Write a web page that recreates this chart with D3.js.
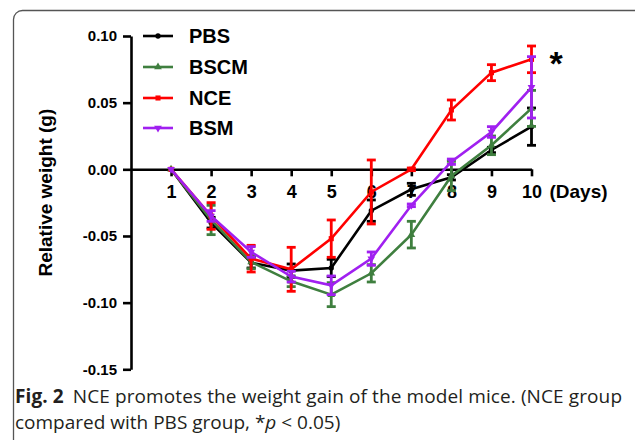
<!DOCTYPE html>
<html>
<head>
<meta charset="utf-8">
<script src="https://cdn.jsdelivr.net/npm/d3@7"></script>
<style>
  body { margin: 0; background: #fff; }
  text { font-family: "Liberation Sans", Arial, sans-serif; }
  .caption { font-family: "Open Sans", "Noto Sans", sans-serif; }
</style>
</head>
<body>
<div id="chart"></div>
<script>
// Data
const days = [1, 2, 3, 4, 5, 6, 7, 8, 9, 10];
const yTicks = [0.10, 0.05, 0.00, -0.05, -0.10, -0.15];

const pbs      = [0, -0.040, -0.070, -0.076, -0.074, -0.031, -0.015, -0.006, 0.0145, 0.032];
const pbsErr   = [0, 0.004, 0.004, 0.005, 0.0065, 0.008, 0.0045, 0.002, 0.002, 0.014];
const bscm     = [0, -0.038, -0.0695, -0.084, -0.094, -0.078, -0.049, -0.005, 0.018, 0.0457];
const bscmErr  = [0, 0.011, 0.005, 0.004, 0.009, 0.0065, 0.010, 0.011, 0.007, 0.0135];
const nce      = [0, -0.035, -0.067, -0.075, -0.052, -0.017, 0.000, 0.0445, 0.0725, 0.0825];
const nceErr   = [0, 0.010, 0.010, 0.0165, 0.014, 0.024, 0.001, 0.0075, 0.006, 0.010];
const bsm      = [0, -0.035, -0.062, -0.0805, -0.087, -0.067, -0.027, 0.0057, 0.028, 0.0615];
const bsmErr   = [0, 0.004, 0.004, 0.004, 0.007, 0.005, 0.001, 0.002, 0.004, 0.023];

const seriesNames = ["PBS", "BSCM", "NCE", "BSM"];

const width = 635;
const height = 440;

const series = [
  {name: "PBS",  values: pbs,  err: pbsErr,  colour: "#000000", symbol: d3.symbolCircle,   size: 22},
  {name: "BSCM", values: bscm, err: bscmErr, colour: "#3f7f3f", symbol: d3.symbolTriangle, size: 26},
  {name: "NCE",  values: nce,  err: nceErr,  colour: "#ff0000", symbol: d3.symbolSquare,   size: 26},
  {name: "BSM",  values: bsm,  err: bsmErr,  colour: "#a020f0", symbol: d3.symbolTriangle, size: 26, flip: true}
];

const svg = d3.select("#chart").append("svg")
    .attr("width", width)
    .attr("height", height);

// rounded frame
svg.append("rect")
    .attr("x", 13.5).attr("y", 10.5)
    .attr("width", 660).attr("height", 470)
    .attr("rx", 9)
    .attr("fill", "none")
    .attr("stroke", "#555")
    .attr("stroke-width", 1.3);

const x = d3.scaleLinear().domain([0, 10]).range([131, 531.5]);
const y = d3.scaleLinear().domain([-0.15, 0.10]).range([369.3, 36]);

// plain hyphen for negatives, like the original
const fmtY = d => d3.format(".2f")(d).replace("\u2212", "-");

// Y AXIS
const yAxis = svg.append("g")
    .attr("transform", `translate(${x(0)},0)`)
    .call(d3.axisLeft(y).tickValues(yTicks).tickSize(8).tickSizeOuter(0).tickPadding(6)
      .tickFormat(fmtY));
yAxis.select(".domain").attr("stroke-width", 2.6);
yAxis.selectAll(".tick line").attr("stroke-width", 2.6);
yAxis.selectAll(".tick text")
    .attr("font-size", 15).attr("font-weight", "bold")
    .attr("font-family", "Liberation Sans, Arial, sans-serif")
    .attr("fill", "#000");

// X AXIS at y = 0
const xAxis = svg.append("g")
    .attr("transform", `translate(0,${y(0)})`)
    .call(d3.axisBottom(x).tickValues(days).tickSize(7).tickSizeOuter(0).tickPadding(9)
      .tickFormat(d3.format("d")));
xAxis.select(".domain").attr("stroke-width", 2.6);
xAxis.selectAll(".tick line").attr("stroke-width", 2.6);
xAxis.selectAll(".tick text")
    .attr("font-size", 18).attr("font-weight", "bold")
    .attr("font-family", "Liberation Sans, Arial, sans-serif")
    .attr("fill", "#000");

svg.append("text")
    .attr("x", x(10) + 18)
    .attr("y", y(0) + 29)
    .attr("font-size", 19)
    .attr("font-weight", "bold")
    .text("(Days)");

// axis title
svg.append("text")
    .attr("transform", `translate(52,${(y(0.10) + y(-0.15)) / 2 - 10}) rotate(-90)`)
    .attr("text-anchor", "middle")
    .attr("font-size", 19)
    .attr("font-weight", "bold")
    .text("Relative weight (g)");

// LINES, ERROR BARS, MARKERS
const line = d3.line()
    .x((d, i) => x(days[i]))
    .y(d => y(d));

series.forEach(s => {
  const g = svg.append("g");

  g.append("path")
      .attr("d", line(s.values))
      .attr("fill", "none")
      .attr("stroke", s.colour)
      .attr("stroke-width", 2.6);

  const bars = g.selectAll("g.err")
      .data(days.map((d, i) => ({day: d, v: s.values[i], e: s.err[i]})).filter(d => d.e > 0))
      .enter().append("g")
      .attr("class", "err")
      .attr("stroke", s.colour)
      .attr("stroke-width", 2.8);

  bars.append("line")
      .attr("x1", d => x(d.day)).attr("x2", d => x(d.day))
      .attr("y1", d => y(d.v - d.e)).attr("y2", d => y(d.v + d.e));
  bars.append("line")
      .attr("x1", d => x(d.day) - 4.5).attr("x2", d => x(d.day) + 4.5)
      .attr("y1", d => y(d.v + d.e)).attr("y2", d => y(d.v + d.e));
  bars.append("line")
      .attr("x1", d => x(d.day) - 4.5).attr("x2", d => x(d.day) + 4.5)
      .attr("y1", d => y(d.v - d.e)).attr("y2", d => y(d.v - d.e));

  g.selectAll("path.mark")
      .data(s.values)
      .enter().append("path")
      .attr("class", "mark")
      .attr("d", d3.symbol().type(s.symbol).size(s.size))
      .attr("transform", (d, i) => `translate(${x(days[i])},${y(d)})${s.flip ? " rotate(180)" : ""}`)
      .attr("fill", s.colour);
});

// asterisk for NCE
svg.append("text")
    .attr("x", 556)
    .attr("y", 75)
    .attr("text-anchor", "middle")
    .attr("font-size", 34)
    .attr("font-weight", "bold")
    .text("*");

// LEGEND
const legendY = [36, 67, 98, 128];
const legend = svg.selectAll("g.legend")
    .data(series)
    .enter().append("g")
    .attr("class", "legend")
    .attr("transform", (d, i) => `translate(0,${legendY[i]})`);

legend.append("line")
    .attr("x1", 143).attr("x2", 173)
    .attr("stroke", d => d.colour)
    .attr("stroke-width", 2.6);
legend.append("path")
    .attr("d", d => d3.symbol().type(d.symbol).size(d.size)())
    .attr("transform", d => `translate(158,0)${d.flip ? " rotate(180)" : ""}`)
    .attr("fill", d => d.colour);
legend.append("text")
    .attr("x", 189)
    .attr("y", 0)
    .attr("dy", "0.36em")
    .attr("font-size", 20)
    .attr("font-weight", "bold")
    .text((d, i) => seriesNames[i]);

// CAPTION
const cap1 = svg.append("text")
    .attr("class", "caption")
    .attr("x", 15)
    .attr("y", 403)
    .attr("font-size", 19)
    .attr("fill", "#231f20");
cap1.append("tspan").attr("font-weight", "bold").text("Fig. 2");
cap1.append("tspan").attr("dx", 9).text("NCE promotes the weight gain of the model mice. (NCE group");

const cap2 = svg.append("text")
    .attr("class", "caption")
    .attr("x", 15)
    .attr("y", 429)
    .attr("font-size", 19)
    .attr("fill", "#231f20");
cap2.append("tspan").text("compared with PBS group, *");
cap2.append("tspan").attr("font-style", "italic").text("p");
cap2.append("tspan").text(" < 0.05)");

// fit first caption line to the measured width
const w1 = cap1.node().getComputedTextLength();
cap1.attr("textLength", 607).attr("lengthAdjust", w1 > 607 ? "spacingAndGlyphs" : "spacing");
</script>
</body>
</html>
